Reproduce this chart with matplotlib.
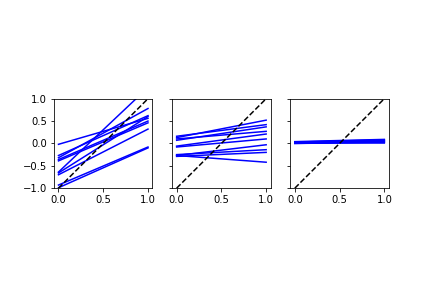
import numpy as np
import matplotlib
matplotlib.use("Agg")
import matplotlib.pyplot as plt

# each line is drawn from (0, start) to (1, end)
starts_1 = [-0.02, -0.27, -0.32, -0.36, -0.39, -0.64, -0.66, -0.70, -0.93, -0.99]
ends_1 = [0.56, 0.62, 0.78, 0.50, 0.46, 1.25, 0.60, 0.32, -0.08, -0.10]

starts_2 = [0.13, 0.16, 0.07, 0.10, -0.06, -0.08, -0.27, -0.25, -0.29, -0.27]
ends_2 = [0.52, 0.42, 0.37, 0.27, 0.21, 0.10, -0.03, -0.14, -0.20, -0.42]

starts_3 = [0.00, 0.01, 0.02, 0.03, 0.00, 0.01, 0.02, 0.04, 0.03, 0.02]
ends_3 = [0.02, 0.04, 0.06, 0.08, 0.03, 0.05, 0.07, 0.09, 0.03, 0.01]

xs = [0.0, 1.0]
truth = [-1.0, 1.0]

fig, axes = plt.subplots(1, 3, sharey=True, figsize=(6, 4), dpi=72)
fig.subplots_adjust(bottom=0.117, top=0.887)

for ax, starts, ends in zip(axes, [starts_1, starts_2, starts_3],
                            [ends_1, ends_2, ends_3]):
    for s, e in zip(starts, ends):
        ax.plot(xs, [s, e], 'b')
    ax.plot(xs, truth, 'k--')
    ax.set_ylim(-1, 1)
    ax.set_aspect(0.5)

fig.savefig("out.png")
